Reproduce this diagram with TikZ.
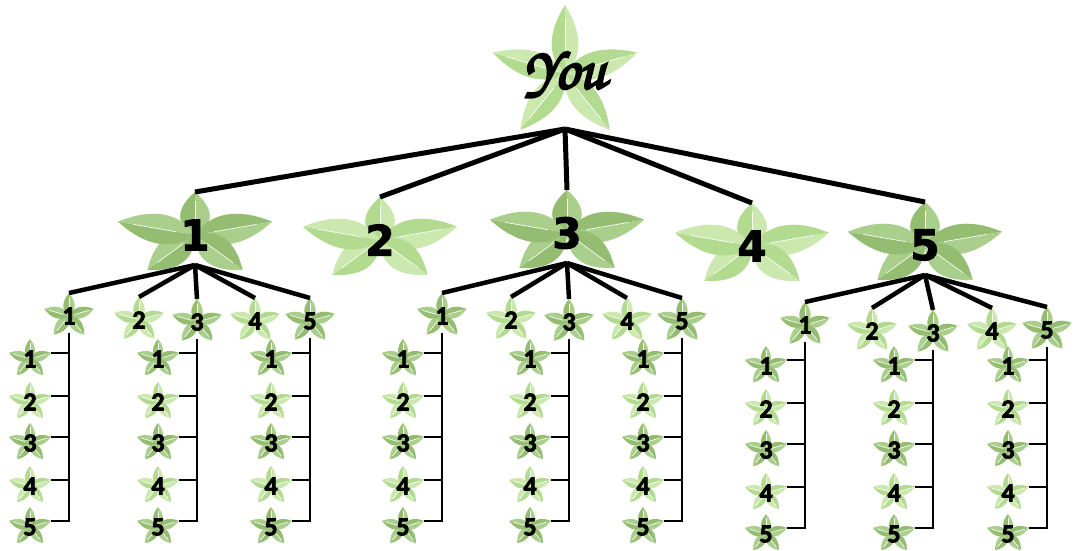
\documentclass[tikz,border=0pt]{standalone}
\usepackage[T1,TU]{fontenc}
\usepackage{fontspec}
\usetikzlibrary{calc}
\newfontfamily\bignum{DejaVu Sans}
\newfontfamily\smallnum{Carlito}
\newcommand\youfont{\fontencoding{T1}\fontfamily{pzc}\fontseries{mb}\fontshape{it}\fontsize{60}{60}\selectfont}
\newcommand\heavy[2][2.2]{\special{pdf:code 2 Tr #1 w}#2\special{pdf:code 0 Tr}}
\definecolor{leafdarkA}{HTML}{94BD72}
\definecolor{leafdarkB}{HTML}{AACE8C}
\definecolor{leaflightA}{HTML}{B2DB90}
\definecolor{leaflightB}{HTML}{CBE8AE}
\tikzset{trunk/.style={line width=5pt},branch/.style={line width=4.5pt},twig/.style={line width=1.8pt}}

\newcommand\leafstar[5]{%
\colorlet{petalA}{leaf#4A}\colorlet{petalB}{leaf#4B}
\foreach \a in {-90,-18,54,126,198}{
\coordinate (lt) at ($(#2,#3)+({\Rx*cos(\a)},{\Ry*sin(\a)})$);
\fill[petalA] (#2,#3) .. controls ($(#2,#3)!0.3!(lt)!\hw!90:(lt)$) and ($(#2,#3)!0.7!(lt)!\hwb!90:(lt)$) .. (lt) -- cycle;
\fill[petalB] (#2,#3) .. controls ($(#2,#3)!0.3!(lt)!\hw!-90:(lt)$) and ($(#2,#3)!0.7!(lt)!\hwb!-90:(lt)$) .. (lt) -- cycle;
\draw[white,line width=0.6pt] ($(#2,#3)!0.25!(lt)$) -- ($(#2,#3)!0.8!(lt)$);
}
\coordinate (#1-t) at ($(#2,#3)+(0,-\Ry)$);
\coordinate (#1-r) at ($(#2,#3)+({0.951*\Rx},{-0.309*\Ry})$);
\coordinate (#1-b) at ($(#2,#3)+(0,\hub)$);
\node[font=\numfont,inner sep=0pt] (#1) at (#2,#3) {\heavy[\ink]{#5}};
}

\begin{document}
\begin{tikzpicture}[x=1pt,y=-1pt]
\fill[white] (0,0) rectangle (1083,550);
\useasboundingbox (0,0) rectangle (1083,550);

\def\Rx{76}\def\Ry{69}\def\hw{22pt}\def\hwb{13pt}\def\hub{55}\def\numfont{\youfont}\def\ink{2.2}
\leafstar{you}{565}{74}{light}{\raisebox{-7pt}{You}}

\def\Rx{81}\def\Ry{43}\def\hw{24pt}\def\hwb{15pt}\def\hub{30}\def\ink{1}
\def\numfont{\bignum\bfseries\fontsize{42}{42}\selectfont}
\leafstar{s1}{195}{235}{dark}{1}
\leafstar{s2}{380}{240}{light}{2}
\leafstar{s3}{567}{233}{dark}{3}
\leafstar{s4}{752}{246}{light}{4}
\leafstar{s5}{925}{245}{dark}{5}

\def\Rx{26}\def\Ry{23}\def\hw{9pt}\def\hwb{6pt}\def\hub{17}\def\ink{0.7}
\def\numfont{\smallnum\bfseries\fontsize{26}{26}\selectfont}
\leafstar{a1}{69}{316}{dark}{1}
\leafstar{a2}{139}{320}{light}{2}
\leafstar{a3}{197}{322}{dark}{3}
\leafstar{a4}{255}{321}{light}{4}
\leafstar{a5}{310}{321}{dark}{5}
\leafstar{b1}{442}{316}{dark}{1}
\leafstar{b2}{511}{320}{light}{2}
\leafstar{b3}{569}{322}{dark}{3}
\leafstar{b4}{627}{321}{light}{4}
\leafstar{b5}{682}{321}{dark}{5}
\leafstar{c1}{805}{325}{dark}{1}
\leafstar{c2}{872}{331}{light}{2}
\leafstar{c3}{933}{333}{dark}{3}
\leafstar{c4}{992}{331}{light}{4}
\leafstar{c5}{1047}{330}{dark}{5}

\foreach \n in {1,...,5}{
\draw[trunk] (you-b) -- (s\n-t);
\draw[branch] (s1-b) -- (a\n-t);
\draw[branch] (s3-b) -- (b\n-t);
\draw[branch] (s5-b) -- (c\n-t);
}

\def\Rx{22}\def\Ry{20}\def\hw{8pt}\def\hwb{5pt}\def\hub{15}
\foreach \p/\px/\dy in {a1/69/0,a3/197/0,a5/310/0,b1/442/0,b3/569/0,b5/682/0,c1/805/7,c3/933/7,c5/1047/7}{
\foreach \k/\y in {1/359,2/402,3/443,4/486,5/527}{
\pgfmathsetmacro\cx{\px-39}\pgfmathsetmacro\cy{\y+\dy}
\ifodd\k\relax\def\tone{dark}\else\def\tone{light}\fi
\leafstar{\p-\k}{\cx}{\cy}{\tone}{\k}
\draw[twig] (\p-\k-r) -- (\p-\k-r -| \p-b);
}
\draw[twig] (\p-b) |- (\p-5-r);
}
\end{tikzpicture}
\end{document}
